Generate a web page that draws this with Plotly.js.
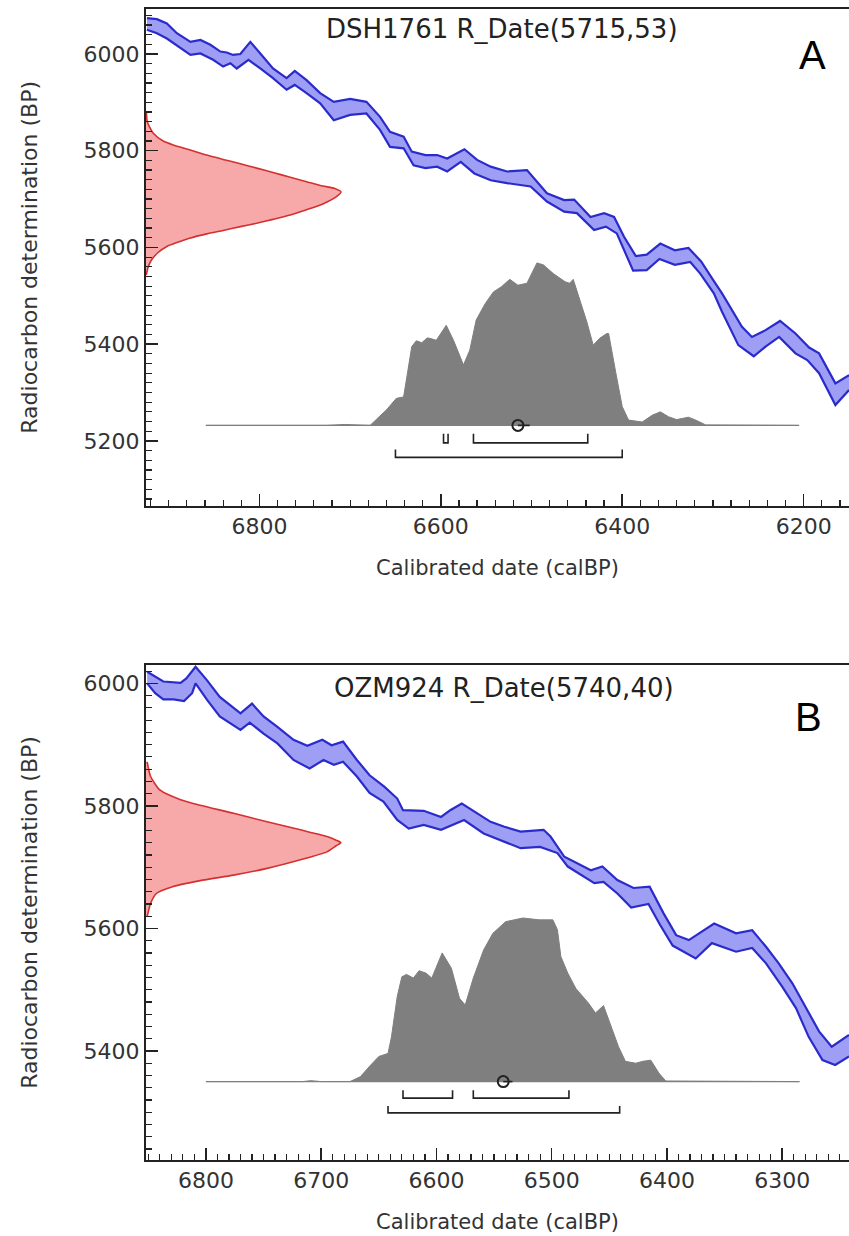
<!DOCTYPE html>
<html>
<head>
<meta charset="utf-8">
<script src="https://cdn.plot.ly/plotly-3.0.1.min.js"></script>
<style>html,body{margin:0;padding:0;background:#fff;}#chart{width:849px;height:1236px;}</style>
</head>
<body>
<div id="chart"></div>
<script>
// ---------------- Panel A : DSH1761 R_Date(5715,53) ----------------
const titleA = 'DSH1761 R_Date(5715,53)';
const labelA = 'A';
// calibration curve (upper / lower 1-sigma envelope), calBP vs BP
const calUpperAx = [6924,6913,6902,6891,6876,6865,6854,6843,6836,6829,6821,6810,6799,6785,6770,6761,6748,6733,6718,6700,6682,6667,6656,6641,6632,6617,6604,6593,6574,6560,6545,6527,6505,6494,6483,6464,6453,6435,6420,6409,6398,6385,6373,6358,6342,6327,6313,6302,6290,6268,6257,6242,6226,6209,6194,6183,6165,6150];
const calUpperAy = [6074,6072,6063,6043,6025,6029,6019,6005,6003,5998,6000,6025,6001,5970,5950,5965,5946,5919,5901,5907,5901,5870,5839,5829,5798,5791,5791,5784,5803,5781,5767,5757,5760,5736,5712,5698,5699,5663,5671,5663,5622,5582,5585,5608,5594,5599,5571,5539,5505,5436,5415,5429,5448,5422,5393,5381,5319,5336];
const calLowerAx = [6924,6913,6902,6887,6876,6865,6851,6840,6832,6825,6812,6799,6785,6770,6761,6748,6733,6718,6700,6682,6667,6656,6641,6630,6617,6604,6593,6578,6563,6545,6527,6501,6483,6464,6450,6431,6418,6406,6388,6373,6359,6342,6325,6314,6299,6290,6272,6255,6242,6227,6209,6196,6183,6165,6150];
const calLowerAy = [6050,6043,6032,6012,5998,6001,5988,5974,5981,5970,5988,5970,5950,5926,5936,5919,5898,5863,5874,5877,5843,5808,5805,5770,5764,5767,5757,5777,5753,5739,5733,5726,5695,5674,5671,5636,5643,5629,5552,5553,5576,5564,5570,5546,5505,5467,5398,5375,5395,5415,5381,5367,5340,5274,5305];
// radiocarbon measurement distribution (BP) and its relative width (years)
const rdA_bp = [5880,5860,5836,5820,5812,5802,5791,5782,5773,5764,5755,5745,5736,5727,5722,5715,5705,5690,5678,5667,5658,5650,5643,5635,5628,5619,5610,5602,5589,5574,5560,5543];
const rdA_w  = [0.5,1.4,8,19,30,48,67,85,104,122,140,159,177,195,208,215,210,195,177,159,140,122,104,85,67,48,34,23,13,6,2.5,0.3];
// calibrated probability (calBP) and height (BP units) above baseline
const postA_x = [6859,6726,6706,6689,6678,6660,6649,6641,6638,6632,6627,6621,6615,6612,6605,6594,6586,6575,6568,6561,6551,6542,6533,6524,6515,6505,6498,6494,6487,6476,6463,6458,6454,6449,6439,6432,6425,6417,6415,6407,6400,6393,6378,6367,6358,6349,6340,6327,6319,6308,6205];
const postA_h = [0,0,2,1,0,32,56,59,94,163,175,171,181,180,176,207,176,125,156,218,252,276,287,302,290,294,321,336,332,314,297,294,302,273,214,166,180,190,190,108,39,11,7,21,28,18,12,17,11,1,0];
const postA_base = 5232;
const hpd68A = [[6597,6592],[6564,6438]];
const hpd95A = [[6650,6400]];
const meanA = 6515, medianA = 6502;

// ---------------- Panel B : OZM924 R_Date(5740,40) ----------------
const titleB = 'OZM924 R_Date(5740,40)';
const labelB = 'B';
const calUpperBx = [6851,6844,6837,6822,6817,6809,6799,6788,6770,6760,6750,6738,6724,6712,6699,6691,6681,6669,6658,6645,6634,6629,6611,6596,6588,6578,6567,6553,6541,6527,6507,6501,6489,6475,6466,6456,6443,6429,6415,6403,6392,6381,6372,6359,6340,6326,6314,6303,6291,6280,6268,6257,6242];
const calUpperBy = [6019,6011,6003,6001,6008,6027,6005,5978,5951,5967,5946,5929,5908,5898,5908,5899,5905,5875,5850,5831,5812,5793,5792,5782,5793,5804,5791,5774,5766,5758,5761,5750,5717,5704,5695,5701,5679,5666,5668,5625,5589,5581,5592,5608,5592,5597,5570,5543,5510,5472,5432,5407,5426];
const calLowerBx = [6851,6844,6837,6828,6819,6812,6809,6799,6788,6770,6762,6750,6738,6724,6710,6698,6689,6681,6669,6658,6646,6634,6624,6611,6596,6576,6559,6544,6527,6510,6495,6486,6472,6463,6455,6443,6431,6416,6406,6395,6375,6361,6340,6326,6314,6300,6288,6277,6265,6254,6242];
const calLowerBy = [6000,5984,5974,5974,5971,5984,6000,5973,5946,5924,5936,5918,5902,5875,5861,5875,5867,5872,5848,5821,5807,5777,5763,5769,5761,5777,5755,5744,5731,5733,5723,5701,5684,5674,5676,5657,5634,5640,5606,5572,5551,5576,5562,5568,5543,5505,5470,5423,5385,5377,5391];
const rdB_bp = [5872,5848,5826,5810,5801,5788,5774,5761,5750,5744,5740,5735,5725,5712,5698,5687,5678,5668,5657,5641,5619];
const rdB_w  = [1,4,12,30,47,76,105,134,157,165,169,165,157,134,105,76,47,23,9,4,1];
const postB_x = [6800,6716,6709,6700,6675,6666,6658,6650,6642,6639,6634,6630,6626,6620,6615,6609,6604,6595,6587,6580,6575,6568,6559,6551,6540,6525,6511,6499,6495,6492,6486,6479,6468,6462,6455,6450,6442,6436,6427,6421,6414,6407,6401,6285];
const postB_h = [0,0,1.5,0,0,8,25,41,46,73,139,171,175,169,181,177,169,210,185,136,125,169,215,242,261,267,264,264,248,204,177,152,128,112,124,98,57,33,30,33,35,14,1,0];
const postB_base = 5350;
const hpd68B = [[6629,6586],[6568,6485]];
const hpd95B = [[6642,6441]];
const meanB = 6542, medianB = 6534;

// axis ranges
const xRangeA = [6925, 6150], yRangeA = [5066, 6093];
const xRangeB = [6852, 6242], yRangeB = [5222, 6030];

// ---------------- styles ----------------
const BLUE = '#2b2bcc', BLUE_FILL = '#9e9ef5';
const RED = '#d43030', RED_FILL = '#f7a9a9';
const GREY = '#7f7f7f';
const INK = '#222222';

function panelTraces(o) {
  const xa = o.xa, ya = o.ya, t = [];
  // calibration band
  t.push({x: o.ux.concat(o.lx.slice().reverse()), y: o.uy.concat(o.ly.slice().reverse()),
    mode:'lines', fill:'toself', fillcolor:BLUE_FILL, line:{width:0, color:BLUE_FILL}, xaxis:xa, yaxis:ya, hoverinfo:'skip'});
  t.push({x:o.ux, y:o.uy, mode:'lines', line:{color:BLUE, width:2.2}, xaxis:xa, yaxis:ya});
  t.push({x:o.lx, y:o.ly, mode:'lines', line:{color:BLUE, width:2.2}, xaxis:xa, yaxis:ya});
  // radiocarbon date distribution on the y axis
  const rx = o.rw.map(w => o.xLeft - w);
  t.push({x: rx.concat([o.xLeft, o.xLeft]), y: o.rbp.concat([o.rbp[o.rbp.length-1], o.rbp[0]]),
    mode:'lines', fill:'toself', fillcolor:RED_FILL, line:{width:0, color:RED_FILL, shape:'spline', smoothing:0.6}, xaxis:xa, yaxis:ya});
  t.push({x: rx, y: o.rbp, mode:'lines', line:{color:RED, width:1.6, shape:'spline', smoothing:0.6}, xaxis:xa, yaxis:ya});
  // calibrated distribution
  const n = o.px.length;
  t.push({x:[o.px[0], o.px[n-1]], y:[o.base, o.base], mode:'lines', line:{color:GREY, width:1.2}, xaxis:xa, yaxis:ya});
  t.push({x:o.px, y:o.ph.map(h => o.base + h), mode:'lines', fill:'tonexty', fillcolor:GREY,
    line:{color:GREY, width:1}, xaxis:xa, yaxis:ya});
  // hpd brackets
  function br(ranges, level, top) {
    const bx = [], by = [];
    ranges.forEach(r => { bx.push(r[0], r[0], r[1], r[1], null); by.push(top, level, level, top, null); });
    return {x:bx, y:by, mode:'lines', line:{color:INK, width:1.6}, xaxis:xa, yaxis:ya, connectgaps:false};
  }
  t.push(br(o.h68, o.l68, o.t68));
  t.push(br(o.h95, o.l95, o.t95));
  // mean / median
  t.push({x:[o.mean, o.median], y:[o.base, o.base], mode:'lines', line:{color:INK, width:1.6}, xaxis:xa, yaxis:ya});
  t.push({x:[o.mean], y:[o.base], mode:'markers', marker:{symbol:'circle-open', size:11, color:INK, line:{width:2, color:INK}}, xaxis:xa, yaxis:ya});
  return t;
}

const traces = [].concat(
  panelTraces({xa:'x', ya:'y', ux:calUpperAx, uy:calUpperAy, lx:calLowerAx, ly:calLowerAy,
    rbp:rdA_bp, rw:rdA_w, xLeft:xRangeA[0], px:postA_x, ph:postA_h, base:postA_base,
    h68:hpd68A, h95:hpd95A, l68:5196, t68:5215, l95:5166, t95:5182, mean:meanA, median:medianA}),
  panelTraces({xa:'x2', ya:'y2', ux:calUpperBx, uy:calUpperBy, lx:calLowerBx, ly:calLowerBy,
    rbp:rdB_bp, rw:rdB_w, xLeft:xRangeB[0], px:postB_x, ph:postB_h, base:postB_base,
    h68:hpd68B, h95:hpd95B, l68:5323, t68:5336, l95:5299, t95:5310, mean:meanB, median:medianB})
);

const W = 849, H = 1236;
function xAxis(range, dtick, minor, anchor) {
  return {domain:[146/W, 1], range:range, autorange:false, anchor:anchor, dtick:dtick, tick0:0,
    ticks:'inside', ticklen:12, tickwidth:1.5, tickcolor:INK,
    minor:{dtick:minor, ticks:'inside', ticklen:6, tickwidth:1.2, tickcolor:INK, showgrid:false},
    showline:true, linewidth:2, linecolor:INK, mirror:true, showgrid:false, zeroline:false,
    tickfont:{family:'DejaVu Sans', size:22, color:'#333'},
    title:{text:'Calibrated date (calBP)', font:{family:'DejaVu Sans', size:21, color:'#333'}, standoff:22}};
}
function yAxis(range, domain, anchor) {
  return {domain:domain, range:range, autorange:false, anchor:anchor, dtick:200, tick0:0,
    ticks:'inside', ticklen:12, tickwidth:1.5, tickcolor:INK,
    minor:{dtick:20, ticks:'inside', ticklen:6, tickwidth:1.2, tickcolor:INK, showgrid:false},
    showline:true, linewidth:2, linecolor:INK, showgrid:false, zeroline:false,
    tickfont:{family:'DejaVu Sans', size:22, color:'#333'},
    title:{text:'Radiocarbon determination (BP)', font:{family:'DejaVu Sans', size:22, color:'#333'}, standoff:40}};
}

const layout = {
  width:W, height:H, margin:{l:0, r:0, t:0, b:0},
  paper_bgcolor:'#ffffff', plot_bgcolor:'#ffffff', showlegend:false,
  font:{family:'DejaVu Sans', color:'#333'},
  xaxis: xAxis(xRangeA, 200, 20, 'y'),
  yaxis: yAxis(yRangeA, [1-505.7/H, 1-9/H], 'x'),
  xaxis2: xAxis(xRangeB, 100, 10, 'y2'),
  yaxis2: yAxis(yRangeB, [1-1160/H, 1-665/H], 'x2'),
  annotations:[
    {text:titleA, xref:'paper', yref:'paper', x:502/W, y:1-29/H, xanchor:'center', yanchor:'middle', showarrow:false,
      font:{family:'DejaVu Sans', size:26, color:INK}},
    {text:titleB, xref:'paper', yref:'paper', x:504/W, y:1-688/H, xanchor:'center', yanchor:'middle', showarrow:false,
      font:{family:'DejaVu Sans', size:26, color:INK}},
    {text:labelA, xref:'paper', yref:'paper', x:812/W, y:1-55/H, xanchor:'center', yanchor:'middle', showarrow:false,
      font:{family:'Liberation Sans', size:40, color:'#000'}},
    {text:labelB, xref:'paper', yref:'paper', x:808/W, y:1-717/H, xanchor:'center', yanchor:'middle', showarrow:false,
      font:{family:'Liberation Sans', size:40, color:'#000'}}
  ]
};

Plotly.newPlot('chart', traces, layout, {staticPlot:true, displayModeBar:false});
</script>
</body>
</html>
